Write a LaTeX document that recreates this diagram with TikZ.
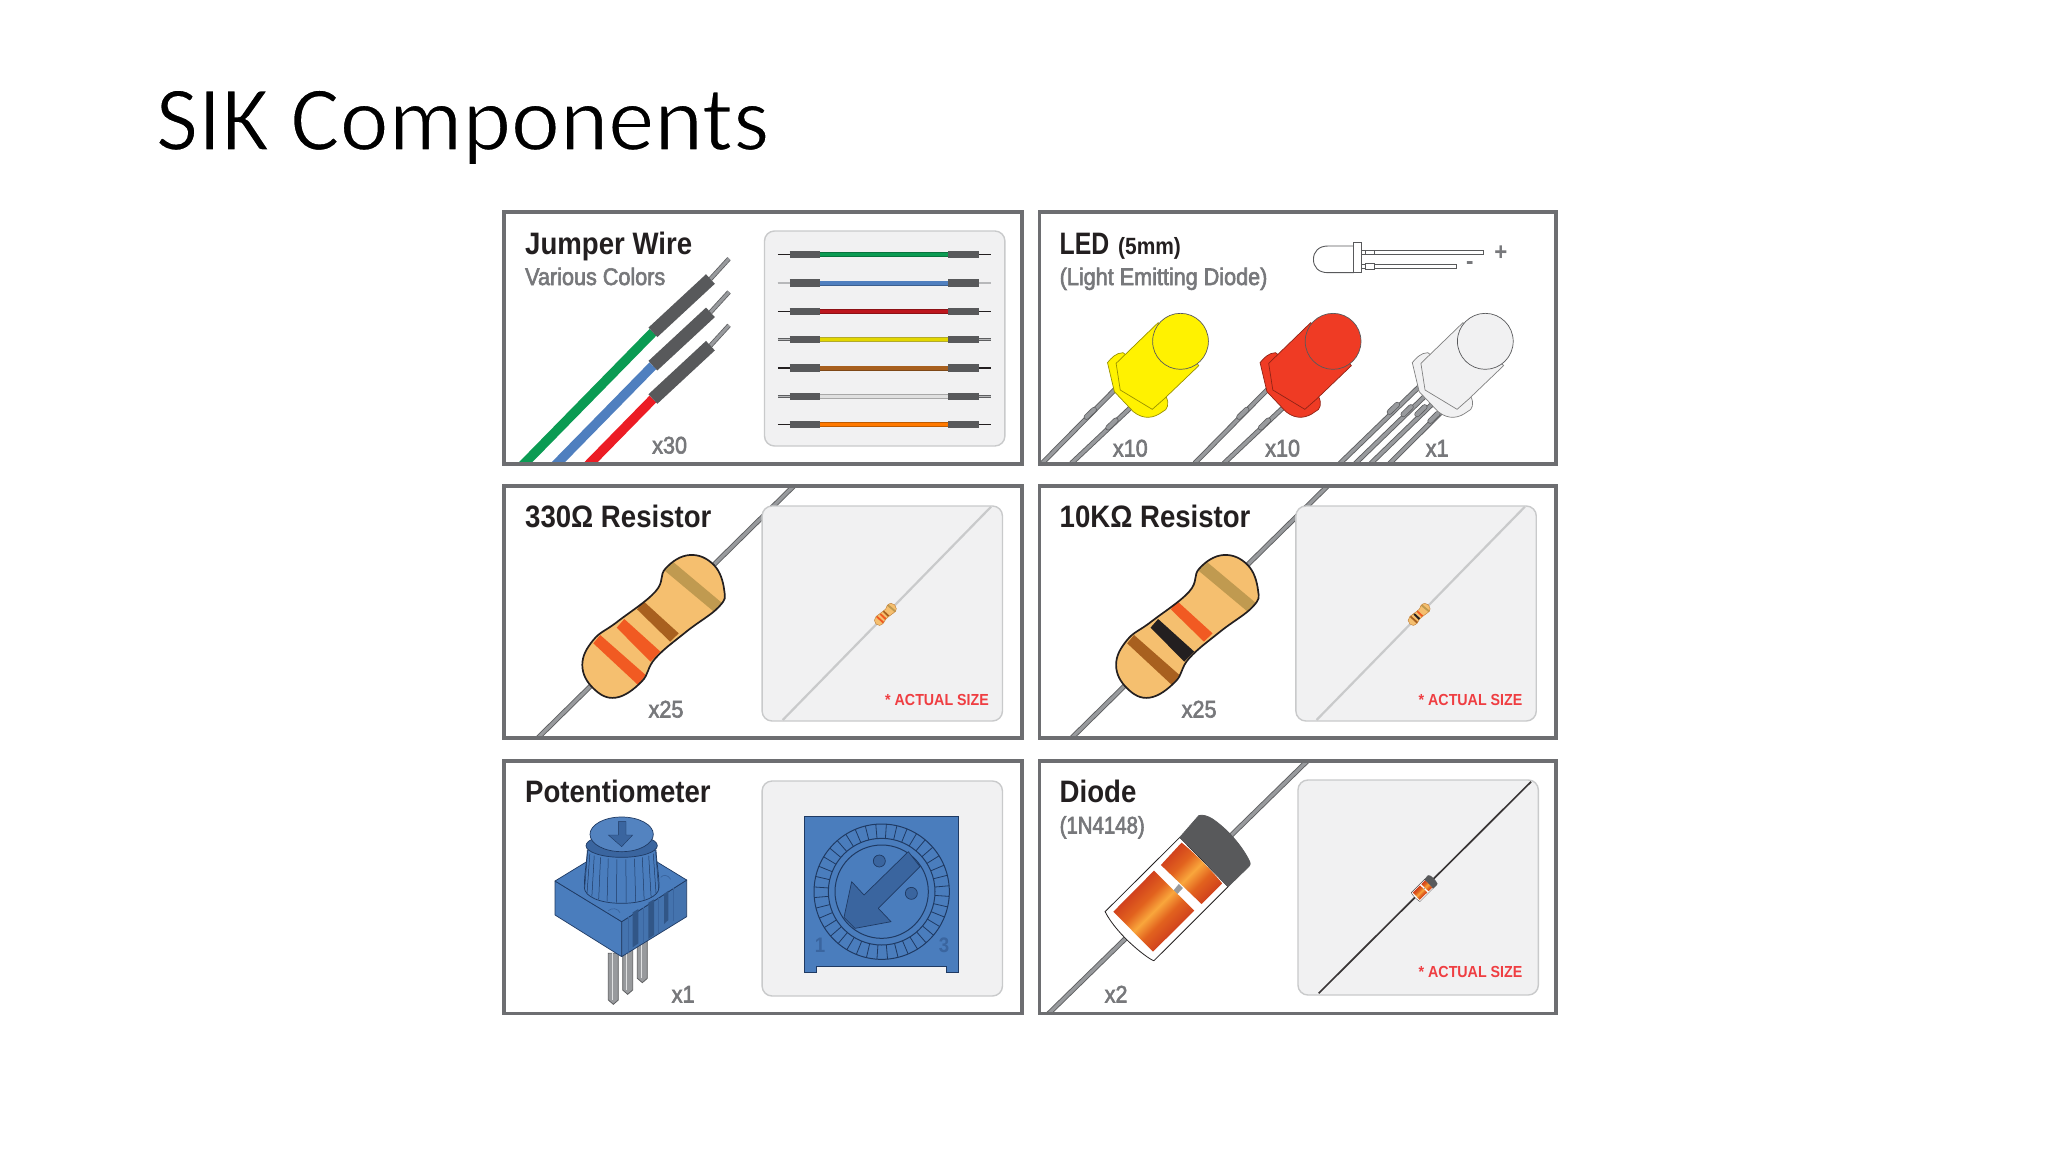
\documentclass[tikz,border=0pt]{standalone}
\usepackage{fontspec}
\setmainfont{Liberation Sans}
\newfontfamily\titlefont{Carlito}
\newfontfamily\nar[FakeStretch=0.89]{Liberation Sans}
\newfontfamily\narm[FakeStretch=0.90]{Liberation Sans}
\newfontfamily\narx[FakeStretch=0.80]{Liberation Sans}
\newfontfamily\nary[FakeStretch=0.85]{Liberation Sans}
\newcommand\fs[1]{\fontsize{#1}{#1}\selectfont}
\newcommand\hv[1]{\special{pdf:code 2 Tr .6 w .467 .471 .482 RG}#1\special{pdf:code 0 Tr 1 w}}
\definecolor{frameink}{HTML}{6D6E71}
\definecolor{boxfill}{HTML}{F1F1F2}
\definecolor{boxedge}{HTML}{C9CACB}
\definecolor{hdink}{HTML}{231F20}
\definecolor{subink}{HTML}{77787B}
\definecolor{actink}{HTML}{EF3E42}
\definecolor{shell}{HTML}{58595B}
\definecolor{leadedge}{HTML}{5E5F61}
\definecolor{leadcore}{HTML}{989A9D}
\definecolor{jgreen}{HTML}{0B9B53}
\definecolor{jblue}{HTML}{4F7FBF}
\definecolor{jred}{HTML}{EC1C24}
\definecolor{rbody}{HTML}{F5BF6F}
\definecolor{rtan}{HTML}{C09A50}
\definecolor{rbrown}{HTML}{A8601F}
\definecolor{rorange}{HTML}{F15A22}
\definecolor{rblack}{HTML}{231F20}
\definecolor{potblue}{HTML}{4A7DBD}
\definecolor{potdark}{HTML}{3A659F}
\definecolor{potline}{HTML}{1F3A63}
\definecolor{ledyellow}{HTML}{FFF200}
\definecolor{ledred}{HTML}{EF3B24}
\definecolor{ledwhite}{HTML}{F1F1F2}
\definecolor{dhi}{HTML}{F9A63C}
\definecolor{dmid}{HTML}{E2621E}
\definecolor{dlo}{HTML}{C42A1C}
\pgfdeclareverticalshading{diodewide}{100bp}{color(0bp)=(dlo);color(25bp)=(dlo);color(42bp)=(dmid);color(50bp)=(dhi);color(58bp)=(dmid);color(75bp)=(dlo);color(100bp)=(dlo)}
\pgfdeclareverticalshading{diodesmall}{100bp}{color(0bp)=(dlo);color(17bp)=(dlo);color(39bp)=(dmid);color(50bp)=(dhi);color(61bp)=(dmid);color(83bp)=(dlo);color(100bp)=(dlo)}
\tikzset{
 zoomat/.style 2 args={shift={(#1,#2)},x=.3444pt,y=-.33333pt},
 zoomex/.style 2 args={shift={(#1,#2)},x=.33333pt,y=-.33333pt},
 panel/.style={draw=frameink,line width=3.5pt},
 inbox/.style={draw=boxedge,fill=boxfill,line width=1.4pt,rounded corners=10pt},
 hd/.style={anchor=base west,inner sep=0pt,text=hdink,font=\nar\bfseries\fs{31}},
 subl/.style={anchor=base west,inner sep=0pt,text=subink,font=\narm\fs{24}},
 qty/.style={anchor=base west,inner sep=0pt,text=subink,font=\narm\fs{24}},
 act/.style={anchor=base west,inner sep=0pt,text=actink,font=\nar\bfseries\fs{16}},
 leadw/.style={draw=leadedge,line width=.9pt,double=leadcore,double distance=3.2pt},
 pinw/.style={draw=leadedge,line width=.8pt,double=leadcore,double distance=3pt},
 thinlead/.style={draw=#1,line width=2.2pt},
}
\newcommand\resbody[6]{%
 \begin{scope}
 \clip plot[smooth cycle,tension=.7] coordinates {(580,240)(650,270)(680,345)(665,395)(570,470)(480,550)(440,620)(365,668)(300,640)(268,570)(300,495)(370,440)(480,350)(510,280)};
 \fill[rbody] (200,200) rectangle (720,700);
 \fill[#1] (525,255)--(675,385)--(650,410)--(505,285)--cycle;
 \fill[#2] (445,378)--(548,475)--(523,500)--(427,403)--cycle;
 \fill[#3] (390,432)--(495,530)--(466,560)--(368,458)--cycle;
 \fill[#4] (320,480)--(452,600)--(430,630)--(300,505)--cycle;
 \end{scope}
 \draw[line width=#5,draw=#6] plot[smooth cycle,tension=.7] coordinates {(580,240)(650,270)(680,345)(665,395)(570,470)(480,550)(440,620)(365,668)(300,640)(268,570)(300,495)(370,440)(480,350)(510,280)};
}
\newcommand\bigled[2]{%
 \filldraw[fill=#1,draw=#2,line width=.7pt] (225,488)..controls (235,475) and (250,458)..(270,458)--(285,470)--(395,590)..controls (405,610) and (400,630)..(385,635)..controls (360,655) and (330,660)..(300,635)--(245,575)--cycle;
 \filldraw[fill=#1,draw=#2,line width=.7pt] (250,490)--(262,570)--(355,628)--(388,598)--(490,497)--(437,425)--(372,368)--cycle;
 \filldraw[fill=#1,draw=shell,line width=.7pt] (437,424) ellipse [x radius=81,y radius=84];
}
\newcommand\ledlead[4]{%
 \draw[leadw] (#1,#2)--(#3,#4);
}
\newcommand\ledbump[2]{%
 \draw[draw=leadedge,line width=5.6pt,line cap=round] (#1-11,#2+11)--(#1+11,#2-11);
 \draw[draw=leadcore,line width=4pt,line cap=round] (#1-11,#2+11)--(#1+11,#2-11);
}
\newcommand\diodebody[1]{%
 \filldraw[fill=white,draw=hdink,line width=#1] (218,485)--(435,262)--(575,410)--(360,632)..controls (350,632) and (255,560)..cycle;
 \fill[leadcore] (416,422)--(432,402)--(444,414)--(428,432)--cycle;
 \shade[shading=diodesmall,shading angle=45] (440,278)--(380,345)--(498,462)--(558,400)..controls (530,365) and (480,310)..cycle;
 \shade[shading=diodewide,shading angle=45] (360,362)--(242,485)--(357,605)--(477,482)--cycle;
 \filldraw[fill=shell,draw=shell,line width=#1,line join=round] (435,262)--(490,197)..controls (500,192) and (520,200)..(530,207)..controls (570,235) and (615,285)..(638,335)..controls (642,345) and (635,350)..(630,355)--(575,410)..controls (540,370) and (480,305)..cycle;
}
\begin{document}
\begin{tikzpicture}[x=1pt,y=-1pt]
\useasboundingbox (0,0) rectangle (2048,1152);
\fill[white] (0,0) rectangle (2048,1152);
\node[anchor=base west,inner sep=0pt,text=black,font=\titlefont\fs{92.5}] (title) at (155.5,150) {\special{pdf:code 2 Tr 1.5 w 1 1 1 RG}SIK Components\special{pdf:code 0 Tr 0 0 0 RG 1 w}};

%% ---------- Jumper wire
\begin{scope}
\clip (504,212) rectangle (1022,464);
\begin{scope}[zoomat={490}{200}]
\foreach \dy/\c in {0/jgreen,100/jblue,200/jred}{
 \begin{scope}[shift={(0,\dy)}]
 \draw[draw=\c,line width=9.5pt] (50,843)--(473,397);
 \draw[pinw] (640,237)--(694,176);
 \draw[draw=shell,line width=13pt] (473,397)--(640,237);
 \end{scope}
}
\draw[inbox] (797,93) rectangle (1495,738);
\foreach \y/\c/\kind in {164/jgreen/0,249/jblue/1,334/jred!80!black/0,419/yellow!75!olive/1,504/rbrown/0,589/white!88!black/1,674/orange!95!red/0}{
 \ifnum\kind=0
  \draw[draw=hdink,line width=1.5pt] (836,\y)--(1456,\y);
 \else
  \draw[draw=leadedge,line width=.6pt,double=leadcore!70!white,double distance=1.5pt] (836,\y)--(1456,\y);
 \fi
 \draw[draw=\c!75!black,line width=5pt] (958,\y)--(1330,\y);
 \draw[draw=\c,line width=3.2pt] (958,\y)--(1330,\y);
 \draw[draw=shell,line width=7.2pt] (870,\y)--(958,\y);
 \draw[draw=shell,line width=7.2pt] (1330,\y)--(1420,\y);
}
\end{scope}
\end{scope}
\draw[panel] (504,212) rectangle (1022,464);
\node[hd] (t1) at (525,254) {Jumper Wire};
\node[subl] (t2) at (525,285) {\hv{Various Colors}};
\node[qty] (t3) at (652,453.5) {\hv{x30}};

%% ---------- LED
\begin{scope}
\clip (1039.3,212) rectangle (1556,464);
\begin{scope}[zoomat={1030}{200}]
 % small outline LED
 \filldraw[fill=white,draw=shell,line width=.9pt] (940,138)--(865,138)..controls (838,138) and (823,155)..(823,178)..controls (823,202) and (838,218)..(865,218)--(940,218);
 \filldraw[fill=white,draw=shell,line width=.9pt] (940,127) rectangle (962,218);
 \filldraw[fill=white,draw=shell,line width=.9pt] (962,151) rectangle (1317,163);
 \filldraw[fill=white,draw=shell,line width=.9pt] (975,151) rectangle (1000,163);
 \filldraw[fill=white,draw=shell,line width=.9pt] (962,193) rectangle (1237,205);
 \filldraw[fill=white,draw=shell,line width=.9pt] (975,191) rectangle (1000,207);
 % yellow
 \ledlead{250}{565}{35}{790}\ledlead{295}{620}{120}{790}
 \ledbump{175}{640}\ledbump{238}{672}
 \bigled{ledyellow}{ledyellow!60!black}
 % red
 \begin{scope}[shift={(443,0)}]
 \ledlead{250}{565}{35}{790}\ledlead{295}{620}{120}{790}
 \ledbump{175}{640}\ledbump{238}{672}
 \bigled{ledred}{ledred!60!black}
 \end{scope}
 % white
 \begin{scope}[shift={(885,0)}]
 \ledlead{250}{555}{5}{800}\ledlead{265}{585}{50}{800}\ledlead{285}{610}{95}{800}\ledlead{310}{635}{150}{800}
 \ledbump{170}{625}\ledbump{210}{632}\ledbump{250}{632}\ledbump{288}{652}
 \bigled{ledwhite}{black!50}
 \end{scope}
\end{scope}
\end{scope}
\draw[panel] (1039.3,212) rectangle (1556,464);
\node[hd,font=\narx\bfseries\fs{31}] (t4) at (1059.5,254) {LED};
\node[hd,font=\nar\bfseries\fs{23.5}] (t5) at (1118,254) {(5mm)};
\node[subl] (t6) at (1059.5,285) {\hv{(Light Emitting Diode)}};
\node[anchor=center,inner sep=0pt,text=subink,font=\nar\bfseries\fs{25}] (t7) at (1500.8,253.5) {+};
\node[anchor=center,inner sep=0pt,text=subink,font=\nar\bfseries\fs{25}] (t8) at (1469.8,266) {-};
\node[qty] (t9) at (1112.7,456.5) {\hv{x10}};
\node[qty] (t10) at (1265,456.5) {\hv{x10}};
\node[qty] (t11) at (1425.5,456.5) {\hv{x1}};

%% ---------- 330 ohm
\begin{scope}
\clip (504,486) rectangle (1022,738);
\begin{scope}[zoomat={490}{475}]
 \draw[leadw] (130,798)--(885,30);
 \resbody{rtan}{rbrown}{rorange}{rorange}{1.7pt}{hdink}
 \draw[inbox] (790,93) rectangle (1488,738);
 \draw[thinlead=boxedge] (850,735)--(1455,95);
 \begin{scope}[shift={(1148,418)},scale=.155,shift={(-475,-453)}]
 \resbody{rtan}{rbrown}{rorange}{rorange}{.4pt}{rbrown!70!rbody}
 \end{scope}
\end{scope}
\end{scope}
\draw[panel] (504,486) rectangle (1022,738);
\node[hd] (t12) at (525,527.5) {330Ω Resistor};
\node[qty] (t13) at (648.4,717.5) {\hv{x25}};
\node[act] (t14) at (885,705) {* ACTUAL SIZE};

%% ---------- 10K ohm
\begin{scope}
\clip (1039.3,486) rectangle (1556,738);
\begin{scope}[zoomat={1023.8}{475}]
 \draw[leadw] (130,798)--(885,30);
 \resbody{rtan}{rorange}{rblack}{rbrown}{1.7pt}{hdink}
 \draw[inbox] (790,93) rectangle (1488,738);
 \draw[thinlead=boxedge] (850,735)--(1455,95);
 \begin{scope}[shift={(1148,418)},scale=.155,shift={(-475,-453)}]
 \resbody{rtan}{rorange}{rblack}{rbrown}{.4pt}{rbrown!70!rbody}
 \end{scope}
\end{scope}
\end{scope}
\draw[panel] (1039.3,486) rectangle (1556,738);
\node[hd] (t15) at (1059.5,527.5) {10KΩ Resistor};
\node[qty] (t16) at (1181.5,717.5) {\hv{x25}};
\node[act] (t17) at (1418.5,705) {* ACTUAL SIZE};

%% ---------- Potentiometer
\begin{scope}[zoomat={490}{750}]
 \draw[inbox] (790,93) rectangle (1488,738);
\end{scope}
\begin{scope}[zoomex={790}{800}]
 \filldraw[fill=potblue,draw=potline,line width=1pt] (43,48)--(504,48)--(504,516)--(470,516)--(470,500)--(78,500)--(78,516)--(43,516)--cycle;
 \draw[draw=potline,line width=1pt] (275,275) circle [radius=203];
 \foreach \a in {0,9,...,351}{
  \draw[draw=potline,line width=.8pt] ({275+160*cos(\a+4)},{275+160*sin(\a+4)})--({275+203*cos(\a+4)},{275+203*sin(\a+4)});
 }
 \draw[draw=potline,line width=1pt] (275,275) circle [radius=160];
 \draw[draw=potline,line width=1pt] (275,275) circle [radius=140];
 \filldraw[fill=potdark,draw=potline,line width=.7pt] (268,183) circle [radius=18];
 \filldraw[fill=potdark,draw=potline,line width=.7pt] (364,280) circle [radius=18];
 \filldraw[fill=potdark,draw=potline,line width=.7pt,line join=round] (355,155)--(390,200)--(265,325)--(303,365)--(195,385)--(162,352)--(185,245)--(222,285)--cycle;
 \node[inner sep=0pt,text=potdark,font=\nar\bfseries\fs{21}] (t18) at (90,437) {1};
 \node[inner sep=0pt,text=potdark,font=\nar\bfseries\fs{21}] (t19) at (462,437) {3};
\end{scope}
\begin{scope}[zoomex={540}{800}]
 % pins
 \foreach \x/\t/\b in {307/415/535,263/430/570,220/460/600}{
  \filldraw[fill=leadcore,draw=leadedge,line width=.8pt] ({\x-15},\t)--({\x-15},\b)--(\x,\b+13)--({\x+15},\b)--({\x+15},\t)--cycle;
  \draw[draw=white!70!leadcore,line width=1.5pt] ({\x-3},\t)--({\x-3},\b);
 }
 % base
 \filldraw[fill=potblue,draw=potline,line width=.7pt,line join=round] (45,243)--(245,365)--(245,470)--(45,345)--cycle;
 \filldraw[fill=potblue!92!black,draw=potline,line width=.7pt,line join=round] (245,365)--(440,240)--(440,350)--(245,470)--cycle;
 \filldraw[fill=potblue,draw=potline,line width=.7pt,line join=round] (45,243)--(245,121)--(440,240)--(245,365)--cycle;
 \foreach \a/\b/\c/\d in {278/337/295/430,325/308/342/405,372/282/385/360}{
  \fill[potdark!85!black] (\a,\b)--(\c,\b-10)--(\c,\d)--(\a,\d+12)--cycle;
 }
 \draw[draw=potdark,line width=.5pt] (265,352)--(265,458) (310,322)--(310,430) (355,295)--(355,398) (400,265)--(400,362);
 \draw[draw=potdark,line width=.7pt] (205,332)..controls (215,322) and (235,325)..(240,338);
 \draw[draw=potdark,line width=.7pt] (362,232)..controls (370,222) and (385,225)..(392,238);
 % knob
 \filldraw[fill=potblue,draw=potline,line width=.7pt] (133,262)..controls (133,220) and (140,190)..(142,150)--(348,150)..controls (350,190) and (357,220)..(357,262)..controls (357,290) and (310,310)..(245,310)..controls (180,310) and (133,290)..(133,262)--cycle;
 \foreach \a in {8,23,...,173}{
  \draw[draw=potline,line width=.5pt] ({245+103*cos(\a)},{150+28*sin(\a)})--({245+112*cos(\a)},{262+46*sin(\a)});
 }
 \filldraw[fill=potdark,draw=potline,line width=.7pt] (245,137) ellipse [x radius=107,y radius=35];
 \filldraw[fill=potblue!95!white,draw=potline,line width=.7pt] (245,103) ellipse [x radius=95,y radius=52];
 \filldraw[fill=potdark,draw=potline,line width=.4pt] (235,65)--(258,65)--(258,105)--(278,105)--(245,140)--(205,105)--(235,105)--cycle;
\end{scope}
\draw[panel] (504,761) rectangle (1022,1013.5);
\node[hd] (t20) at (525,802.5) {Potentiometer};
\node[qty] (t21) at (671.5,1002.5) {\hv{x1}};

%% ---------- Diode
\begin{scope}
\clip (1039.3,761) rectangle (1556,1013.5);
\begin{scope}[zoomat={1030}{750}]
 \draw[leadw] (40,805)--(815,23);
 \diodebody{.8pt}
 \draw[inbox] (778,90) rectangle (1476,735);
 \draw[draw=hdink!90!white,line width=1.7pt] (838,730)--(1455,95);
 \begin{scope}[shift={(1145,415)},scale=.18,shift={(-430,-413)}]
 \diodebody{.3pt}
 \end{scope}
\end{scope}
\end{scope}
\draw[panel] (1039.3,761) rectangle (1556,1013.5);
\node[hd] (t22) at (1059.5,802.5) {Diode};
\node[subl,font=\nary\fs{24}] (t23) at (1059.5,833.5) {\hv{(1N4148)}};
\node[qty] (t24) at (1104.5,1002.5) {\hv{x2}};
\node[act] (t25) at (1418.5,977.5) {* ACTUAL SIZE};
\end{tikzpicture}
\end{document}
